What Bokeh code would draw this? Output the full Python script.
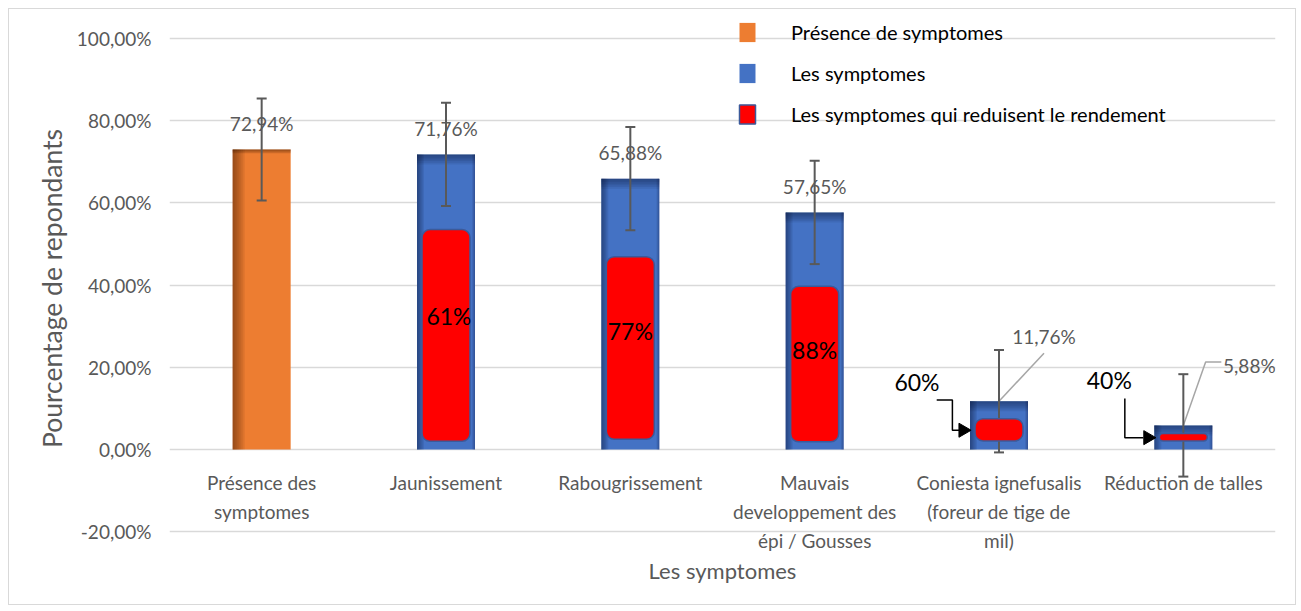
import math
from bokeh.plotting import figure
from bokeh.models import (ColumnDataSource, Range1d, FixedTicker, CustomJSTickFormatter,
                          Legend, LegendItem)
from bokeh.core.properties import value
from bokeh.embed import file_html
from bokeh.resources import INLINE

# ---------------- data ----------------
categories = ["Présence des\nsymptomes", "Jaunissement", "Rabougrissement",
              "Mauvais\ndeveloppement des\népi / Gousses",
              "Coniesta ignefusalis\n(foreur de tige de\nmil)", "Réduction de talles"]
values = [72.94, 71.76, 65.88, 57.65, 11.76, 5.88]
value_labels = ["72,94%", "71,76%", "65,88%", "57,65%", "11,76%", "5,88%"]
errors = [12.4, 12.55, 12.55, 12.55, 12.45, 12.45]
# red "reduce yield" bars, for categories 1..5
red_top = [53.5, 46.9, 39.7, 7.5, 3.9]
red_bottom = [2.0, 2.5, 1.9, 2.1, 2.1]
red_labels = ["61%", "77%", "88%", "60%", "40%"]
legend_labels = ["Présence de symptomes", "Les symptomes",
                 "Les symptomes qui reduisent le rendement"]
y_ticks = [-20, 0, 20, 40, 60, 80, 100]

# ---------------- layout constants ----------------
FONT = "Lato"
GRAY = "#595959"
ORANGE = "#ED7D31"
BLUE = "#4472C4"
RED = "#FF0000"
Y0, Y1 = -26, 104.33
PX = 6 / 1106.0           # x data units per pixel
PY = (Y1 - Y0) / 536.0    # y data units per pixel
BAR_W = 58 * PX
RED_W = 48 * PX

n = len(categories)
xs = [i + 0.5 for i in range(n)]

p = figure(width=1288, height=597, output_backend="svg", toolbar_location=None,
           x_range=Range1d(0, n), y_range=Range1d(Y0, Y1),
           min_border_left=160, min_border_right=22, min_border_top=11,
           min_border_bottom=50)
p.outline_line_color = None
p.background_fill_color = "white"
p.border_fill_color = "white"
p.styles = {"border": "1px solid #D9D9D9", "margin": "8px 0 0 8px"}

# axes
p.yaxis.ticker = FixedTicker(ticks=y_ticks)
p.yaxis.formatter = CustomJSTickFormatter(code="return tick.toFixed(2).replace('.', ',') + '%';")
p.yaxis.axis_line_color = None
p.yaxis.major_tick_line_color = None
p.yaxis.minor_tick_line_color = None
p.yaxis.major_label_standoff = 12
p.yaxis.major_label_text_font = FONT
p.yaxis.major_label_text_font_size = "19px"
p.yaxis.major_label_text_color = GRAY
p.yaxis.axis_label = "Pourcentage de repondants"
p.yaxis.axis_label_text_font = FONT
p.yaxis.axis_label_text_font_size = "26.5px"
p.yaxis.axis_label_text_font_style = "normal"
p.yaxis.axis_label_text_color = GRAY
p.yaxis.axis_label_standoff = 6

p.xaxis.ticker = FixedTicker(ticks=[])
p.xaxis.axis_line_color = None
p.xaxis.major_tick_line_color = None
p.xaxis.minor_tick_line_color = None
p.xaxis.axis_label = "Les symptomes"
p.xaxis.axis_label_text_font = FONT
p.xaxis.axis_label_text_font_size = "22px"
p.xaxis.axis_label_text_font_style = "normal"
p.xaxis.axis_label_text_color = GRAY
p.xaxis.axis_label_standoff = 0

p.xgrid.grid_line_color = None
p.ygrid.ticker = FixedTicker(ticks=y_ticks)
p.ygrid.grid_line_color = "#D9D9D9"
p.ygrid.grid_line_width = 1.5

# main bars
orange_src = ColumnDataSource(dict(x=xs[:1], top=values[:1]))
blue_src = ColumnDataSource(dict(x=xs[1:], top=values[1:]))
r_orange = p.vbar(x="x", top="top", bottom=0, width=BAR_W, source=orange_src,
                  fill_color=ORANGE, line_color=None)
r_blue = p.vbar(x="x", top="top", bottom=0, width=BAR_W, source=blue_src,
                fill_color=BLUE, line_color=None)

# shading (inner shadow look)
def shade(xc, top, left_px, top_px, right_px, layers, alpha, color):
    l = xc - BAR_W / 2
    r = xc + BAR_W / 2
    for k in range(layers):
        f = (k + 1) / layers
        p.quad(left=l, right=l + left_px * f * PX, bottom=0, top=top,
               fill_color=color, fill_alpha=alpha, line_color=None)
        p.quad(left=l, right=r, bottom=top - top_px * f * PY, top=top,
               fill_color=color, fill_alpha=alpha, line_color=None)
        if right_px:
            p.quad(left=r - right_px * f * PX, right=r, bottom=0, top=top,
                   fill_color=color, fill_alpha=alpha * 0.6, line_color=None)

shade(xs[0], values[0], 12, 4, 0, 6, 0.09, "#3a1a05")
for i in range(1, n):
    shade(xs[i], values[i], 7, 10, 3, 6, 0.09, "#0b1a3a")

# value labels (top four)
p.text(x=xs[:4], y=values[:4], text=value_labels[:4], y_offset=-26,
       text_align="center", text_baseline="middle", text_color=GRAY,
       text_font=value(FONT), text_font_size="19px")

# labels with leader lines for the two small bars
small_idx = [4, 5]
p.text(x=[xs[i] for i in small_idx], y=[values[i] for i in small_idx],
       text=[value_labels[i] for i in small_idx], x_offset=[45, 66], y_offset=[-64.4, -60],
       text_align="center", text_baseline="middle", text_color=GRAY,
       text_font=value(FONT), text_font_size="19px")
i4, i5 = small_idx
p.multi_line(
    xs=[[xs[i4], xs[i4] + 45 * PX],
        [xs[i5], xs[i5] + 22.3 * PX, xs[i5] + 38 * PX]],
    ys=[[values[i4], values[i4] + 48 * PY],
        [values[i5], values[i5] + 63.5 * PY, values[i5] + 63.5 * PY]],
    line_color="#A6A6A6", line_width=1.5)

# error bars
cap = 5 * PX
hi = [v + e for v, e in zip(values, errors)]
lo = [v - e for v, e in zip(values, errors)]
p.segment(x0=xs, x1=xs, y0=lo, y1=hi, line_color=GRAY, line_width=2)
p.segment(x0=[x - cap for x in xs], x1=[x + cap for x in xs], y0=hi, y1=hi,
          line_color=GRAY, line_width=2)
p.segment(x0=[x - cap for x in xs], x1=[x + cap for x in xs], y0=lo, y1=lo,
          line_color=GRAY, line_width=2)

# red bars
red_src = ColumnDataSource(dict(x=xs[1:], top=red_top, bottom=red_bottom))
r_red = p.vbar(x="x", top="top", bottom="bottom", width=RED_W, source=red_src,
               fill_color=RED, line_color="#3B5A9A", line_width=1.5, border_radius=8)

# red labels
p.text(x=xs[1:4], y=[32.5, 28.9, 24.2], text=red_labels[:3], x_offset=[3, 0, 0],
       text_align="center", text_baseline="middle", text_color="black",
       text_font=value(FONT), text_font_size="23px")
p.text(x=xs[4:6], y=[16.5, 16.9], text=red_labels[3:], x_offset=[-82, -74],
       text_align="center", text_baseline="middle", text_color="black",
       text_font=value(FONT), text_font_size="23px")

# bent arrows to the small red bars
p.multi_line(
    xs=[[xs[4] - 62.3 * PX, xs[4] - 46.6 * PX, xs[4] - 46.6 * PX, xs[4] - 40 * PX],
        [xs[5] - 58.5 * PX, xs[5] - 58.5 * PX, xs[5] - 40 * PX]],
    ys=[[12.03, 12.03, 4.7, 4.7], [12.4, 2.9, 2.9]],
    line_color="black", line_width=1.5)
p.scatter(x=[xs[4] - 36 * PX, xs[5] - 35.5 * PX], y=[4.7, 2.9], marker="triangle",
          size=14, angle=-math.pi / 2, fill_color="black", line_color="black")

# category labels
p.text(x=xs, y=0, text=categories, y_offset=21, text_align="center",
       text_baseline="top", text_color=GRAY, text_font=value(FONT),
       text_font_size="19px", text_line_height=1.27)

# legend
legend = Legend(items=[LegendItem(label=legend_labels[0], renderers=[r_orange]),
                       LegendItem(label=legend_labels[1], renderers=[r_blue]),
                       LegendItem(label=legend_labels[2], renderers=[r_red])],
                location=(568, 430), glyph_width=20, glyph_height=24, spacing=17,
                label_standoff=34, label_text_font=FONT, label_text_font_size="20px",
                label_text_color="black", padding=0, margin=0,
                border_line_color=None, background_fill_alpha=0)
p.add_layout(legend)

open("out.html", "w").write(file_html(p, INLINE))
